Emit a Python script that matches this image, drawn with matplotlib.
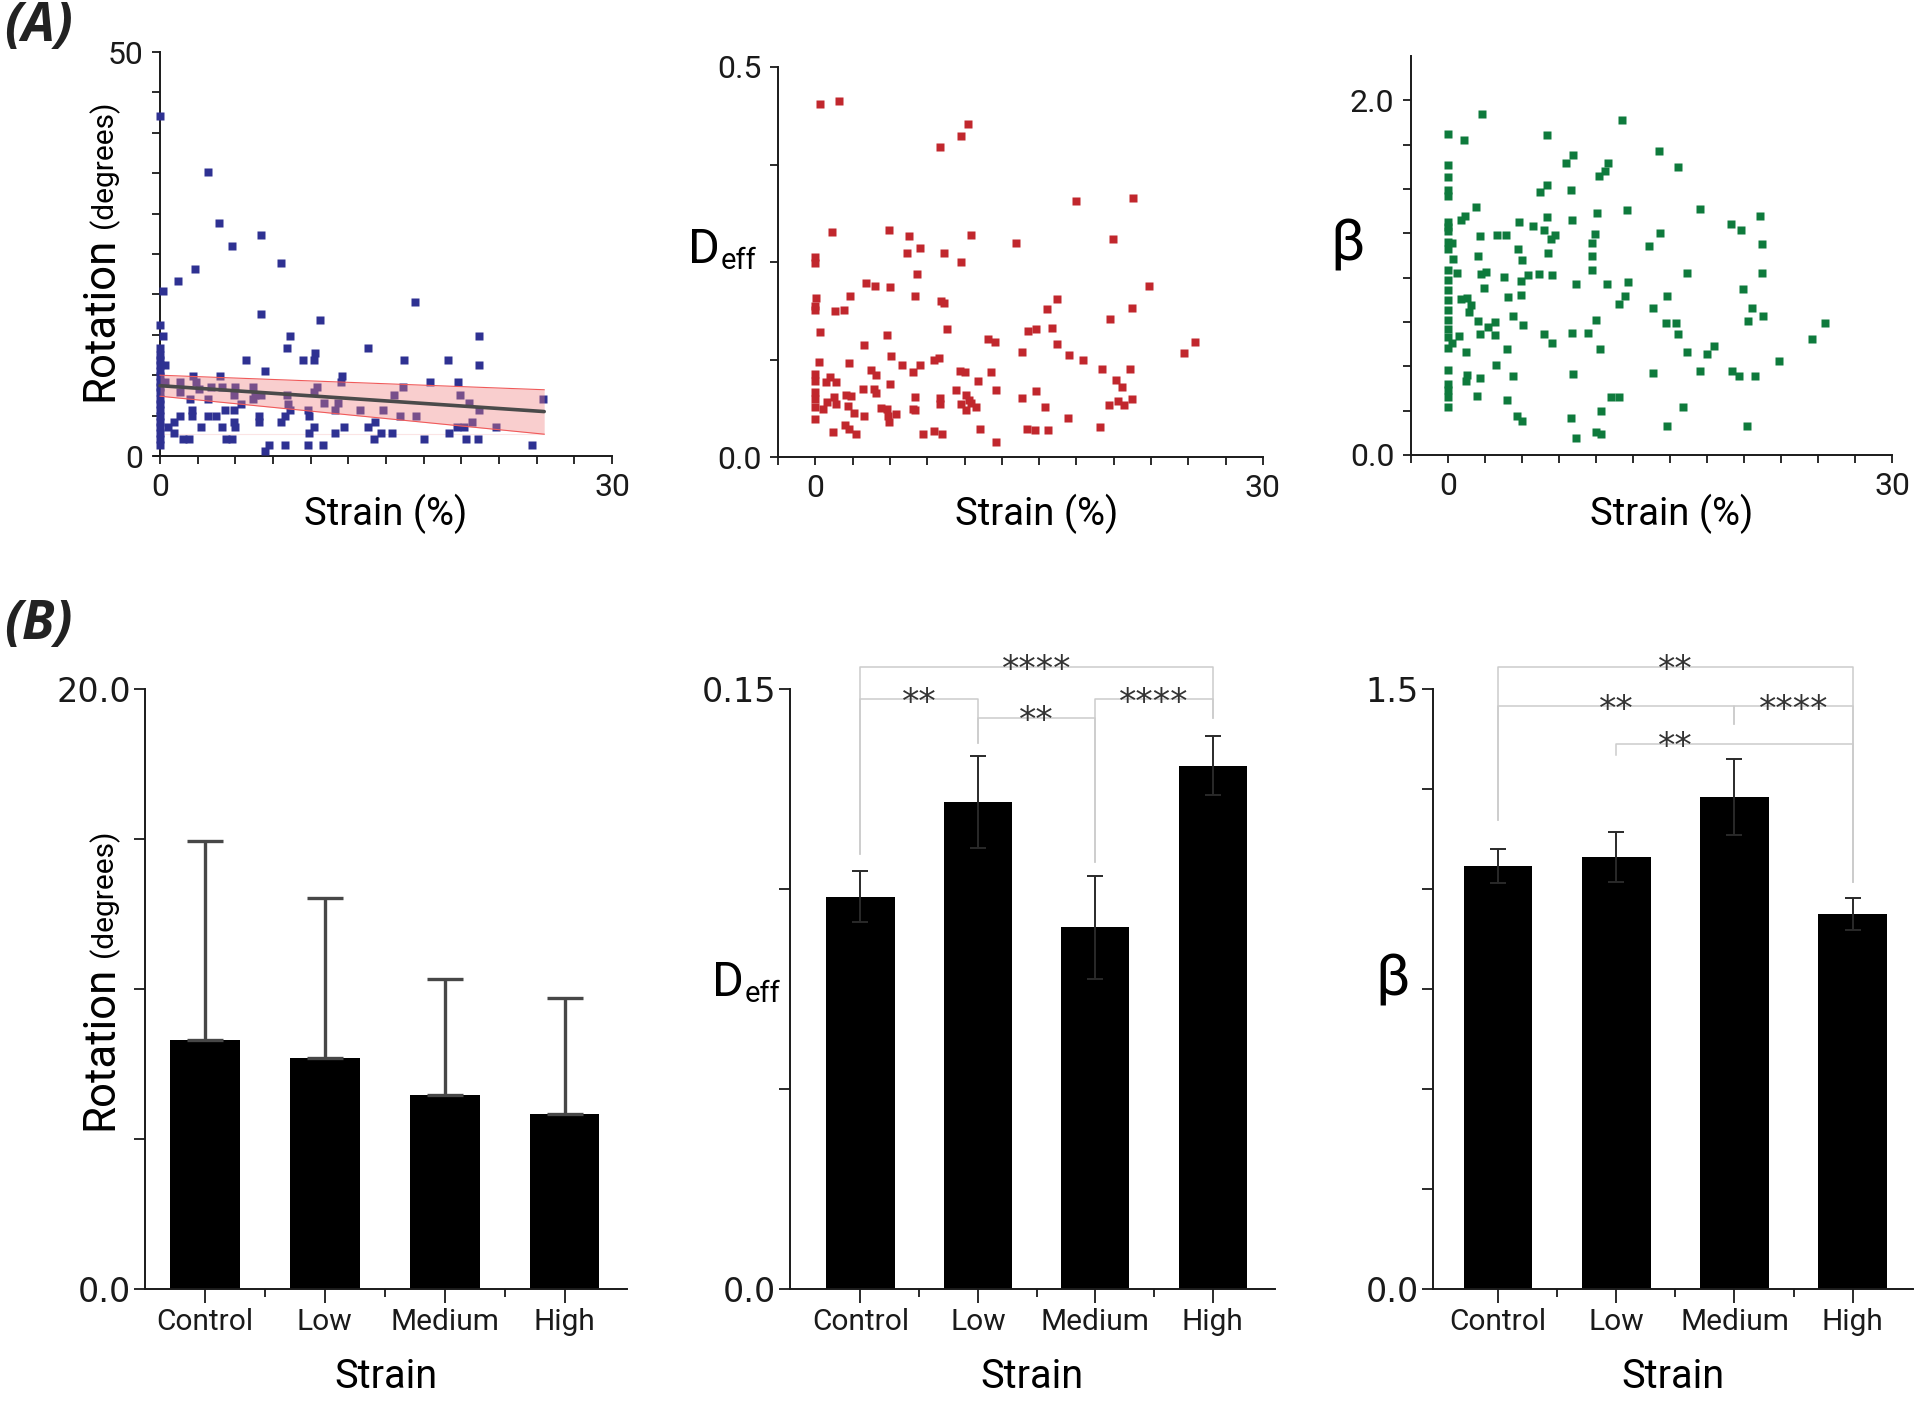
import numpy as np
import matplotlib
matplotlib.use('Agg')
import matplotlib.pyplot as plt

# ---------------- data ----------------
# (A) rotation vs strain
rot_strain = [0, 3.2, 3.9, 6.7, 4.8, 8.0, 2.3, 1.2, 0.2, 16.9, 6.7, 10.6, 0, 0.2, 8.6, 21.2,
              0, 8.4, 13.8, 5.7, 9.5, 10.2, 10.3, 16.2, 19.1, 0, 0.3, 21.2, 7.0, 0, 2.2, 4.0,
              12.1, 12.0, 17.9, 19.8, 0.3, 1.3, 2.4, 3.4, 4.1, 5.0, 6.2, 10.4, 16.1, 1.3, 2.6,
              4.9, 6.3, 8.4, 10.2, 15.5, 19.9, 25.4, 2.0, 3.2, 6.2, 6.7, 10.9, 11.8, 20.5, 5.4,
              8.5, 8.6, 2.1, 4.3, 4.9, 9.8, 11.6, 13.3, 14.8, 21.2, 1.3, 2.1, 3.2, 3.7, 6.6,
              8.3, 9.9, 15.9, 17.0, 0.9, 4.9, 6.6, 8.0, 14.3, 20.7, 0.5, 2.7, 4.1, 5.0, 10.2,
              12.2, 13.8, 19.7, 20.2, 22.3, 0.9, 9.9, 11.6, 14.7, 15.4, 19.2, 1.5, 1.9, 4.4,
              4.8, 14.2, 17.5, 20.3, 21.1, 7.2, 8.3, 9.8, 10.8, 24.7, 7.0,
              0, 0, 0, 0, 0, 0, 0, 0, 0, 0, 0, 0, 0, 0, 0]
rot_angle = [42.1, 35.2, 28.8, 27.4, 26.0, 23.9, 23.2, 21.7, 20.4, 19.0, 17.6, 16.8, 16.2, 14.8,
             14.8, 14.8, 13.4, 13.4, 13.4, 11.9, 11.9, 11.9, 12.7, 11.9, 11.9, 11.9, 11.3, 11.3,
             10.5, 9.9, 9.9, 9.9, 9.9, 9.1, 9.1, 9.1, 9.1, 9.1, 9.1, 8.5, 8.5, 8.5, 8.5, 8.5,
             8.5, 7.9, 8.3, 7.6, 7.6, 7.6, 7.9, 7.6, 7.6, 7.0, 7.0, 7.0, 7.0, 7.6, 6.6, 6.6,
             6.6, 6.4, 6.4, 5.7, 5.7, 5.7, 5.7, 5.7, 5.7, 5.7, 5.7, 5.7, 5.0, 5.0, 5.0, 5.0,
             5.0, 5.0, 5.0, 5.0, 5.0, 4.2, 4.2, 4.2, 4.2, 4.2, 4.2, 3.6, 3.6, 3.6, 3.6, 3.6,
             3.6, 3.6, 3.6, 3.6, 3.6, 2.8, 2.8, 2.8, 2.8, 2.8, 2.8, 2.1, 2.1, 2.1, 2.1, 2.1,
             2.1, 2.1, 2.1, 1.4, 1.4, 1.4, 1.4, 1.4, 0.6,
             12.5, 11.3, 10.5, 9.1, 8.5, 7.9, 7.0, 6.4, 5.7, 5.0, 4.2, 3.6, 2.8, 2.1, 1.4]
# linear fit with confidence band, endpoints
fit_x = [0, 25.5]
fit_mid = [8.7, 5.5]
fit_lo = [7.4, 2.7]
fit_hi = [10.0, 8.2]

# (A) Deff vs strain
deff_strain = [0.33, 1.58, 8.37, 9.78, 10.2, 1.09, 4.93, 6.27, 10.4, 13.46, 7.03, 0, 0, 6.16,
               8.64, 9.75, 6.79, 3.42, 3.97, 5.02, 2.32, 6.67, 0.07, 0, 0, 1.29, 1.94, 8.41,
               8.64, 0.33, 8.82, 14.24, 4.82, 3.28, 11.54, 12.03, 13.86, 5.09, 8.26, 7.95,
               0.22, 2.23, 5.78, 6.99, 3.75, 6.52, 0, 4.08, 9.71, 10.0, 11.8, 0.96, 0, 0.74,
               1.36, 10.9, 5.02, 3.19, 9.44, 12.12, 3.9, 4.08, 0, 2.08, 2.37, 1.27, 6.7, 8.33,
               10.07, 10.27, 13.84, 0, 0.8, 1.36, 8.33, 9.78, 10.45, 10.8, 0, 2.2, 4.42, 4.8,
               6.54, 6.7, 0.51, 10.1, 2.57, 5.38, 4.87, 3.24, 0, 4.93, 1.99, 2.25, 11.05, 14.2,
               1.18, 2.7, 7.21, 7.95, 8.46, 12.14,
               17.48, 21.27, 19.93, 22.39, 16.18, 15.54, 21.23, 19.78, 14.8, 15.89, 16.18,
               17.03, 17.95, 24.69, 25.47, 19.2, 21.09, 20.16, 20.56, 14.8, 15.4, 19.67, 20.29,
               20.71, 21.23, 16.96, 19.1, 14.69, 15.56]
deff_value = [0.453, 0.456, 0.398, 0.412, 0.427, 0.289, 0.291, 0.283, 0.284, 0.274, 0.268,
              0.257, 0.249, 0.262, 0.262, 0.250, 0.235, 0.223, 0.219, 0.218, 0.206, 0.206,
              0.204, 0.194, 0.188, 0.187, 0.189, 0.200, 0.198, 0.160, 0.164, 0.161, 0.156,
              0.144, 0.151, 0.147, 0.134, 0.129, 0.127, 0.124, 0.122, 0.120, 0.118, 0.118,
              0.111, 0.109, 0.107, 0.105, 0.110, 0.109, 0.109, 0.103, 0.098, 0.096, 0.096,
              0.098, 0.094, 0.087, 0.086, 0.086, 0.087, 0.082, 0.083, 0.080, 0.078, 0.077,
              0.077, 0.076, 0.079, 0.073, 0.076, 0.075, 0.070, 0.068, 0.068, 0.068, 0.069,
              0.064, 0.064, 0.065, 0.063, 0.061, 0.061, 0.060, 0.061, 0.060, 0.057, 0.055,
              0.053, 0.052, 0.049, 0.045, 0.041, 0.036, 0.036, 0.036, 0.032, 0.030, 0.029,
              0.033, 0.029, 0.019,
              0.328, 0.332, 0.279, 0.219, 0.202, 0.190, 0.191, 0.177, 0.164, 0.166, 0.145,
              0.131, 0.124, 0.133, 0.148, 0.113, 0.113, 0.099, 0.090, 0.085, 0.064, 0.067,
              0.072, 0.067, 0.075, 0.050, 0.038, 0.035, 0.035]

# (A) beta vs strain
beta_strain = [2.29, 0, 1.1, 6.67, 11.78, 8.42, 7.97, 10.82, 10.64, 10.19, 0, 0, 0, 0, 6.67,
               6.22, 8.3, 1.91, 12.12, 10.1, 0, 0, 0, 0.88, 1.17, 6.67, 8.35, 4.82, 5.77, 6.51,
               7.23, 6.96, 2.18, 3.3, 3.93, 9.92, 9.76, 0, 0.27, 0, 0.34, 2.0, 4.76, 5.03, 6.78,
               9.76, 13.6, 0, 0.61, 2.25, 2.58, 3.75, 5.43, 6.17, 7.0, 9.74, 0, 4.91, 2.45,
               8.62, 10.77, 12.16, 0, 0.9, 1.28, 1.57, 1.39, 4.08, 4.91, 11.98, 11.56, 0, 0, 0,
               0, 0, 0, 0.27, 0.72, 2.02, 2.67, 3.19, 2.18, 3.19, 4.42, 5.05, 9.99, 6.51, 8.35,
               9.47, 7.01, 10.3, 1.23, 3.97, 3.25, 0, 1.28, 1.23, 2.13, 4.38, 8.42, 0, 0, 0, 0,
               1.95, 4.02, 11.0, 11.56, 10.37, 4.69, 4.98, 8.28, 8.62, 9.99, 10.32,
               14.25, 15.53, 17.03, 19.12, 19.79, 21.1, 21.21, 21.21, 14.34, 16.18, 19.95,
               14.83, 13.85, 20.57, 21.29, 20.3, 14.7, 15.42, 15.55, 17.95, 17.5, 16.18, 24.62,
               25.47, 22.37, 13.85, 17.0, 19.19, 19.68, 20.74, 15.89, 14.81, 20.17]
beta_value = [1.923, 1.81, 1.779, 1.805, 1.889, 1.689, 1.645, 1.645, 1.604, 1.572, 1.636,
              1.567, 1.497, 1.463, 1.525, 1.482, 1.495, 1.398, 1.379, 1.366, 1.313, 1.285,
              1.261, 1.326, 1.345, 1.341, 1.328, 1.313, 1.291, 1.266, 1.242, 1.219, 1.235,
              1.238, 1.238, 1.244, 1.197, 1.201, 1.195, 1.159, 1.107, 1.122, 1.163, 1.098,
              1.139, 1.12, 1.178, 1.041, 1.028, 1.023, 1.032, 1.004, 1.017, 1.023, 1.017,
              1.045, 0.985, 0.979, 0.944, 0.966, 0.962, 0.976, 0.929, 0.878, 0.887, 0.844,
              0.807, 0.891, 0.901, 0.897, 0.854, 0.872, 0.816, 0.76, 0.713, 0.666, 0.606,
              0.632, 0.67, 0.756, 0.722, 0.75, 0.681, 0.675, 0.786, 0.735, 0.764, 0.685,
              0.689, 0.689, 0.634, 0.6, 0.582, 0.595, 0.51, 0.478, 0.45, 0.418, 0.435, 0.445,
              0.456, 0.4, 0.366, 0.328, 0.272, 0.332, 0.31, 0.328, 0.325, 0.248, 0.22, 0.191,
              0.21, 0.098, 0.131, 0.118,
              1.713, 1.623, 1.388, 1.304, 1.266, 1.349, 1.191, 1.028, 1.253, 1.028, 0.934,
              0.897, 0.829, 0.829, 0.786, 0.754, 0.747, 0.747, 0.683, 0.614, 0.567, 0.583,
              0.653, 0.747, 0.529, 0.463, 0.471, 0.471, 0.445, 0.445, 0.27, 0.165, 0.163]

# (B) group means
groups = ['Control', 'Low', 'Medium', 'High']
rot_mean = [8.31, 7.71, 6.48, 5.82]
rot_err = [6.62, 5.33, 3.84, 3.87]
deff_mean = [0.0981, 0.1217, 0.0904, 0.1308]
deff_err = [0.0063, 0.0115, 0.0128, 0.0074]
beta_mean = [1.0575, 1.0806, 1.230, 0.937]
beta_err = [0.043, 0.063, 0.095, 0.040]

# significance brackets: (i, j, height, leg_i bottom, leg_j bottom, label, label x)
deff_sig = [(0, 1, 0.1474, 0.1087, 0.1364, '**', 0.5),
            (0, 3, 0.1556, 0.1087, 0.1428, '****', 1.5),
            (1, 2, 0.1428, 0.1364, 0.1068, '**', 1.5),
            (2, 3, 0.1474, 0.1068, 0.1428, '****', 2.5)]
beta_sig = [(0, 3, 1.556, 1.1726, 1.0166, '**', 1.5),
            (0, 2, 1.4565, 1.1726, 1.413, '**', 1.0),
            (2, 3, 1.4565, 1.413, 1.0166, '****', 2.5),
            (1, 3, 1.362, 1.336, 1.0166, '**', 1.5)]

# ---------------- style ----------------
plt.rcParams['font.family'] = ['Roboto', 'DejaVu Sans']
wide = 'DejaVu Sans'
ink = '#1a1a1a'

W, H = 1920, 1405
fig = plt.figure(figsize=(W / 100, H / 100), dpi=100)


def box(l, t, r, b):
    return [l / W, 1 - b / H, (r - l) / W, (b - t) / H]


def fxy(x, y):
    return x / W, 1 - y / H


def clean(ax):
    for s in ('top', 'right'):
        ax.spines[s].set_visible(False)
    for s in ('left', 'bottom'):
        ax.spines[s].set_linewidth(1.4)
        ax.spines[s].set_color(ink)
    ax.tick_params(direction='out', width=1.3, colors=ink)


def sparse(ticks, shown):
    return [shown.get(round(t, 3), '') for t in ticks]


# ---------------- (A) scatter panels ----------------
scatter_specs = [
    (box(154, 52, 612, 456), rot_strain, rot_angle, '#2e3192', (-0.4, 30), (0, 50),
     np.arange(0, 30.1, 2.5), np.arange(0, 50.1, 5), {0: '0', 50: '50'}),
    (box(778, 67, 1263, 457), deff_strain, deff_value, '#c1272d', (-2.5, 30), (0, 0.5),
     np.arange(-2.5, 30.1, 2.5), np.arange(0, 0.51, 0.125), {0: '0.0', 0.5: '0.5'}),
    (box(1411, 56, 1892, 455), beta_strain, beta_value, '#0e7a3c', (-2.5, 30), (0, 2.25),
     np.arange(-2.5, 30.1, 2.5), np.arange(0, 2.01, 0.25), {0: '0.0', 2.0: '2.0'}),
]
top_axes = []
for rect, xs, ys, col, xl, yl, xt, yt, ylab in scatter_specs:
    ax = fig.add_axes(rect)
    clean(ax)
    ax.plot(xs, ys, 's', ms=6.4, mfc=col, mec='none', clip_on=False, zorder=3)
    ax.set_xlim(*xl)
    ax.set_ylim(*yl)
    ax.set_xticks(xt, sparse(xt, {0: '0', 30: '30'}))
    ax.set_yticks(yt, sparse(yt, ylab))
    ax.tick_params(length=6, labelsize=23, pad=6)
    top_axes.append(ax)

ax = top_axes[0]
ax.spines['left'].set_position(('data', 0))
ax.fill_between(fit_x, fit_lo, fit_hi, color='#f08080', alpha=0.38, lw=0, zorder=4)
ax.plot(fit_x, fit_hi, color='#f05a5a', lw=0.8, zorder=4)
ax.plot(fit_x, fit_lo, color='#f05a5a', lw=0.8, zorder=4)
ax.hlines(fit_lo[-1], fit_x[0], fit_x[-1], color='#fbe4e4', lw=0.8, zorder=2)
ax.plot(fit_x, fit_mid, color='#4a4a4a', lw=2.6, solid_capstyle='round', zorder=5)

for xc in (386, 1037, 1672):
    fig.text(*fxy(xc, 514), 'Strain (%)', fontsize=27.5, ha='center', va='center')

# ---------------- (B) bar panels ----------------
bar_specs = [
    (box(145, 689, 627, 1289), rot_mean, rot_err, (-0.5, 3.52), (0, 20),
     np.arange(0, 20.1, 5), {0: '0.0', 20: '20.0'}, None),
    (box(790, 689, 1275, 1289), deff_mean, deff_err, (-0.6, 3.53), (0, 0.15),
     np.arange(0, 0.151, 0.05), {0: '0.0', 0.15: '0.15'}, deff_sig),
    (box(1433, 689, 1913, 1289), beta_mean, beta_err, (-0.55, 3.51), (0, 1.5),
     np.arange(0, 1.51, 0.25), {0: '0.0', 1.5: '1.5'}, beta_sig),
]
pos = np.arange(len(groups))
for n, (rect, mean, err, xl, yl, yt, ylab, sig) in enumerate(bar_specs):
    ax = fig.add_axes(rect)
    clean(ax)
    ax.bar(pos, mean, width=0.58, color='black', zorder=2)
    if n == 0:
        ax.errorbar(pos, mean, yerr=[np.zeros(len(err)), err], fmt='none', ecolor='#474747',
                    elinewidth=2.4, capsize=13, capthick=2.4, zorder=3)
    else:
        ax.errorbar(pos, mean, yerr=err, fmt='none', ecolor='#2a2a2a',
                    elinewidth=1.4, capsize=6, capthick=1.4, zorder=3)
    ax.set_xlim(*xl)
    ax.set_ylim(*yl)
    ax.set_xticks(pos, groups)
    ax.set_xticks(pos[:-1] + 0.5, minor=True)
    ax.tick_params(axis='x', which='major', length=10, labelsize=21.5, pad=4)
    ax.tick_params(axis='x', which='minor', length=6, width=1.3, colors=ink)
    ax.set_yticks(yt, sparse(yt, ylab))
    ax.tick_params(axis='y', length=8, pad=2)
    for lab in ax.get_yticklabels():
        lab.set_fontfamily(wide)
        lab.set_fontsize(24)
    if sig:
        for i, j, h, bi, bj, lab, lx in sig:
            ax.plot([i, i, j, j], [bi, h, h, bj], color='#cccccc', lw=1.1,
                    clip_on=False, zorder=1)
            ax.annotate(lab, (lx, h), xytext=(0, -9.5), textcoords='offset points',
                        ha='center', va='baseline', fontsize=25, family=wide,
                        color='#333333', annotation_clip=False)

for xc in (386, 1032, 1673):
    fig.text(*fxy(xc, 1376), 'Strain', fontsize=28.5, ha='center', va='center')

# ---------------- axis titles ----------------
r = fig.canvas.get_renderer()


def vlabel(x_base, y_center, parts, gap=9):
    texts = [fig.text(0, 0, s, fontsize=sz, rotation=90, rotation_mode='anchor',
                      ha='left', va='baseline') for s, sz in parts]
    lens = [t.get_window_extent(r).height for t in texts]
    y = y_center + (sum(lens) + gap * (len(texts) - 1)) / 2
    for t, ln in zip(texts, lens):
        t.set_position(fxy(x_base, y))
        y -= ln + gap


def sublabel(x_left, y_base, big, small, s1, s2, drop=6):
    t = fig.text(*fxy(x_left, y_base), big, fontsize=s1, ha='left', va='baseline')
    w = t.get_window_extent(r).width
    fig.text(*fxy(x_left + w + 1, y_base + drop), small, fontsize=s2,
             ha='left', va='baseline')


vlabel(112, 251, [('Rotation', 31.5), ('(degrees)', 21.5)])
vlabel(112, 980, [('Rotation', 31.5), ('(degrees)', 21.5)])
sublabel(688, 263, 'D', 'eff', 35, 21)
sublabel(712, 996, 'D', 'eff', 35, 21)
fig.text(*fxy(1348, 245), '\u03b2', fontsize=42, ha='center', va='center')
fig.text(*fxy(1393, 980), '\u03b2', fontsize=42, ha='center', va='center')

for lab, y in (('(A)', 0), ('(B)', 598)):
    fig.text(*fxy(4, y), lab, fontsize=38, fontweight='bold', fontstyle='italic',
             family=['Open Sans', 'DejaVu Sans'], ha='left', va='top', color='#222222')

fig.savefig('out.png', dpi=100, facecolor='white')
